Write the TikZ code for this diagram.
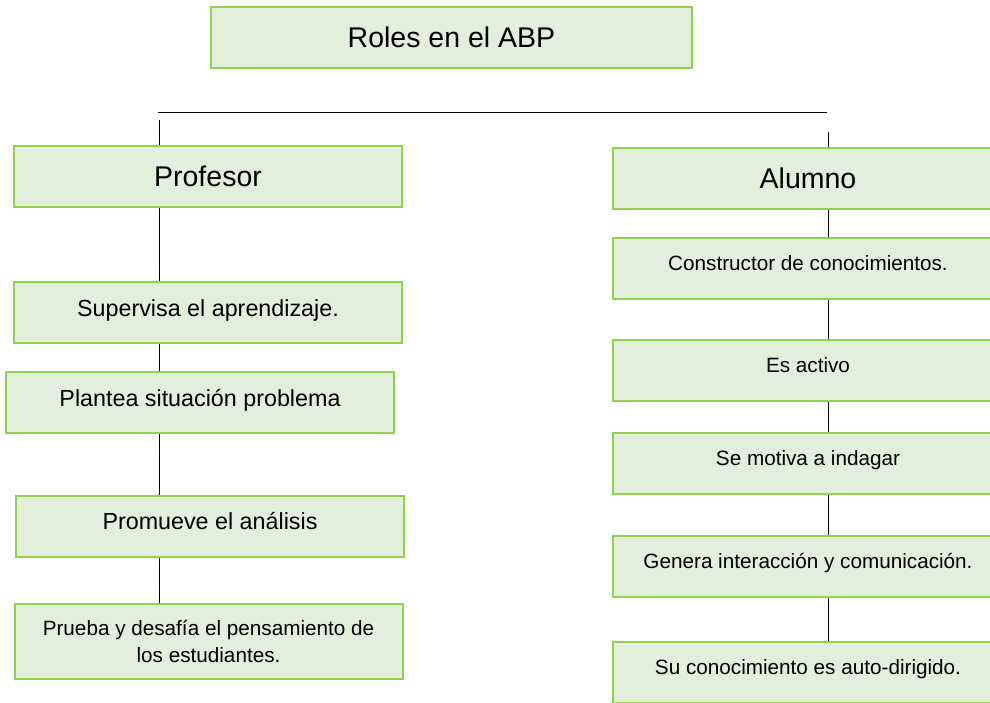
\documentclass[tikz,border=0pt]{standalone}
\usepackage{fontspec}
\setmainfont{Liberation Sans}
\definecolor{boxfill}{HTML}{E2EFDA}
\definecolor{boxline}{HTML}{92D050}
\begin{document}
\begin{tikzpicture}[x=1pt,y=-1pt,line width=0.9pt,
  box/.style={draw=boxline,fill=boxfill,line width=2pt,minimum width=388pt,minimum height=61pt,inner sep=0pt,align=center},
  big/.style={font=\fontsize{28.5}{34}\selectfont},
  mid/.style={font=\fontsize{23.3}{28}\selectfont,text height=17pt,text depth=9.4pt},
  small/.style={font=\fontsize{20.7}{27.5}\selectfont,text height=15pt,text depth=10.2pt},
  twoline/.style={font=\fontsize{20.7}{27.5}\selectfont}]
\clip (0,0) rectangle (990,702);
\node[box,big,minimum width=481pt] (roles) at (451.5,37.5) {Roles en el ABP};
\node[box,big] (prof) at (208,176.5) {Profesor};
\node[box,mid] (sup) at (208,312.5) {Supervisa el aprendizaje.};
\node[box,mid] (plan) at (200,402.5) {Plantea situación problema};
\node[box,mid] (prom) at (210,526) {Promueve el análisis};
\node[box,twoline,minimum height=75pt] (prue) at (208.5,641.5) {Prueba y desafía el pensamiento de\\los estudiantes.};
\node[box,big,minimum width=390pt] (alum) at (808,178) {Alumno};
\foreach \n/\y/\t in {cons/268.5/Constructor de conocimientos., act/370.5/Es activo, mot/463.5/Se motiva a indagar, gen/566/Genera interacción y comunicación., su/672.5/Su conocimiento es auto-dirigido.}
  \node[box,small,minimum width=390pt] (\n) at (808,\y) {\t};
\coordinate (hl) at (158,112);
\coordinate (hr) at (827,112);
\coordinate (ltop) at (159,120);
\coordinate (rtop) at (828,132);
\draw (hl) -- (hr);
\draw (ltop) -- (prof.north -| ltop);
\draw (rtop) -- (alum.north -| rtop);
\foreach \a/\b in {prof/sup,sup/plan,plan/prom,prom/prue} \draw (\a.south -| ltop) -- (\b.north -| ltop);
\foreach \a/\b in {alum/cons,cons/act,act/mot,mot/gen,gen/su} \draw (\a.south -| rtop) -- (\b.north -| rtop);
\end{tikzpicture}
\end{document}
